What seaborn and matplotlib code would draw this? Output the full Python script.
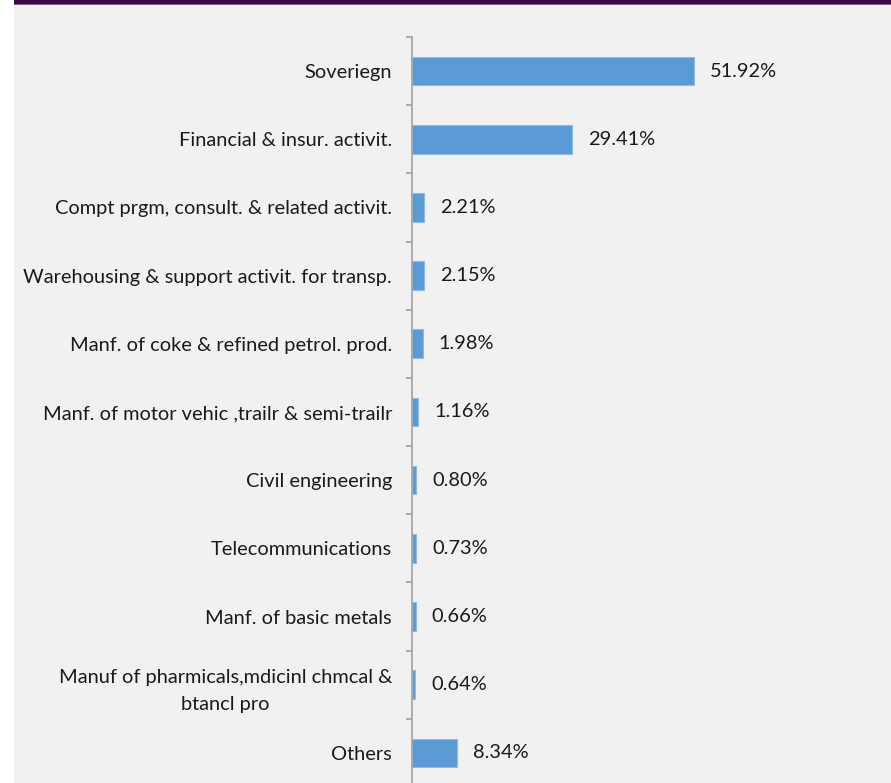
import matplotlib
matplotlib.use("Agg")
import matplotlib.pyplot as plt
import seaborn as sns
import pandas as pd
from matplotlib.patches import Rectangle
from matplotlib.ticker import FixedLocator

categories = [
    "Soveriegn",
    "Financial & insur. activit.",
    "Compt prgm, consult. & related activit.",
    "Warehousing & support activit. for transp.",
    "Manf. of coke & refined petrol. prod.",
    "Manf. of motor vehic ,trailr & semi-trailr",
    "Civil engineering",
    "Telecommunications",
    "Manf. of basic metals",
    "Manuf of pharmicals,mdicinl chmcal &\nbtancl pro",
    "Others",
]
shares = [51.92, 29.41, 2.21, 2.15, 1.98, 1.16, 0.80, 0.73, 0.66, 0.64, 8.34]
value_labels = ["51.92%", "29.41%", "2.21%", "2.15%", "1.98%", "1.16%",
                "0.80%", "0.73%", "0.66%", "0.64%", "8.34%"]

df = pd.DataFrame({"sector": categories, "share": shares})

sns.set_theme(style="white")
plt.rcParams["font.family"] = ["Lato", "DejaVu Sans"]

W, H = 891, 783
fig = plt.figure(figsize=(W / 100, H / 100), dpi=100, facecolor="white")

# light grey panel with a dark purple band along the top
fig.patches.append(Rectangle((14 / W, 0), 1 - 14 / W, 1, transform=fig.transFigure,
                             facecolor="#f1f1f1", edgecolor="none", zorder=-3))
fig.patches.append(Rectangle((14 / W, 1 - 4 / H), 1 - 14 / W, 4 / H, transform=fig.transFigure,
                             facecolor="#3a0a45", edgecolor="none", zorder=-2))
fig.patches.append(Rectangle((14 / W, 1 - 5 / H), 1 - 14 / W, 1 / H, transform=fig.transFigure,
                             facecolor="#8a5c94", edgecolor="none", zorder=-2))

ax_left, ax_right = 412, 886
ax_top, ax_bottom = 37, 787
ax = fig.add_axes([ax_left / W, (H - ax_bottom) / H, (ax_right - ax_left) / W,
                   (ax_bottom - ax_top) / H])
ax.set_facecolor("none")
ax.set_zorder(2)

sns.barplot(data=df, y="sector", x="share", orient="h", color="#5b9bd5",
            width=0.42, edgecolor="#8dbbe6", linewidth=0.8, ax=ax, saturation=1)

px_per_unit = 5.43
ax.set_xlim(0, (ax_right - ax_left) / px_per_unit)
ax.set_ylim(len(categories) - 0.5, -0.5)

fs = 14.4
for i, (v, lab) in enumerate(zip(shares, value_labels)):
    ax.annotate(lab, xy=(v, i), xytext=(16, 0), textcoords="offset pixels",
                ha="left", va="center", fontsize=fs, color="#1a1a1a")

for s in ["top", "right", "bottom"]:
    ax.spines[s].set_visible(False)
ax.spines["left"].set_color("#a6a6a6")
ax.spines["left"].set_linewidth(1.3)

ax.set_xticks([])
ax.set_xlabel("")
ax.set_ylabel("")
ax.tick_params(axis="y", which="major", length=0, pad=14.4, labelsize=fs,
               labelcolor="#1a1a1a")
ax.yaxis.set_minor_locator(FixedLocator([k - 0.5 for k in range(len(categories) + 1)]))
ax.tick_params(axis="y", which="minor", length=4.5, width=1.3, color="#a6a6a6",
               direction="out", left=True)
for t in ax.get_yticklabels():
    t.set_multialignment("center")
    t.set_linespacing(1.7)

fig.savefig("out.png", dpi=100, facecolor="white")
